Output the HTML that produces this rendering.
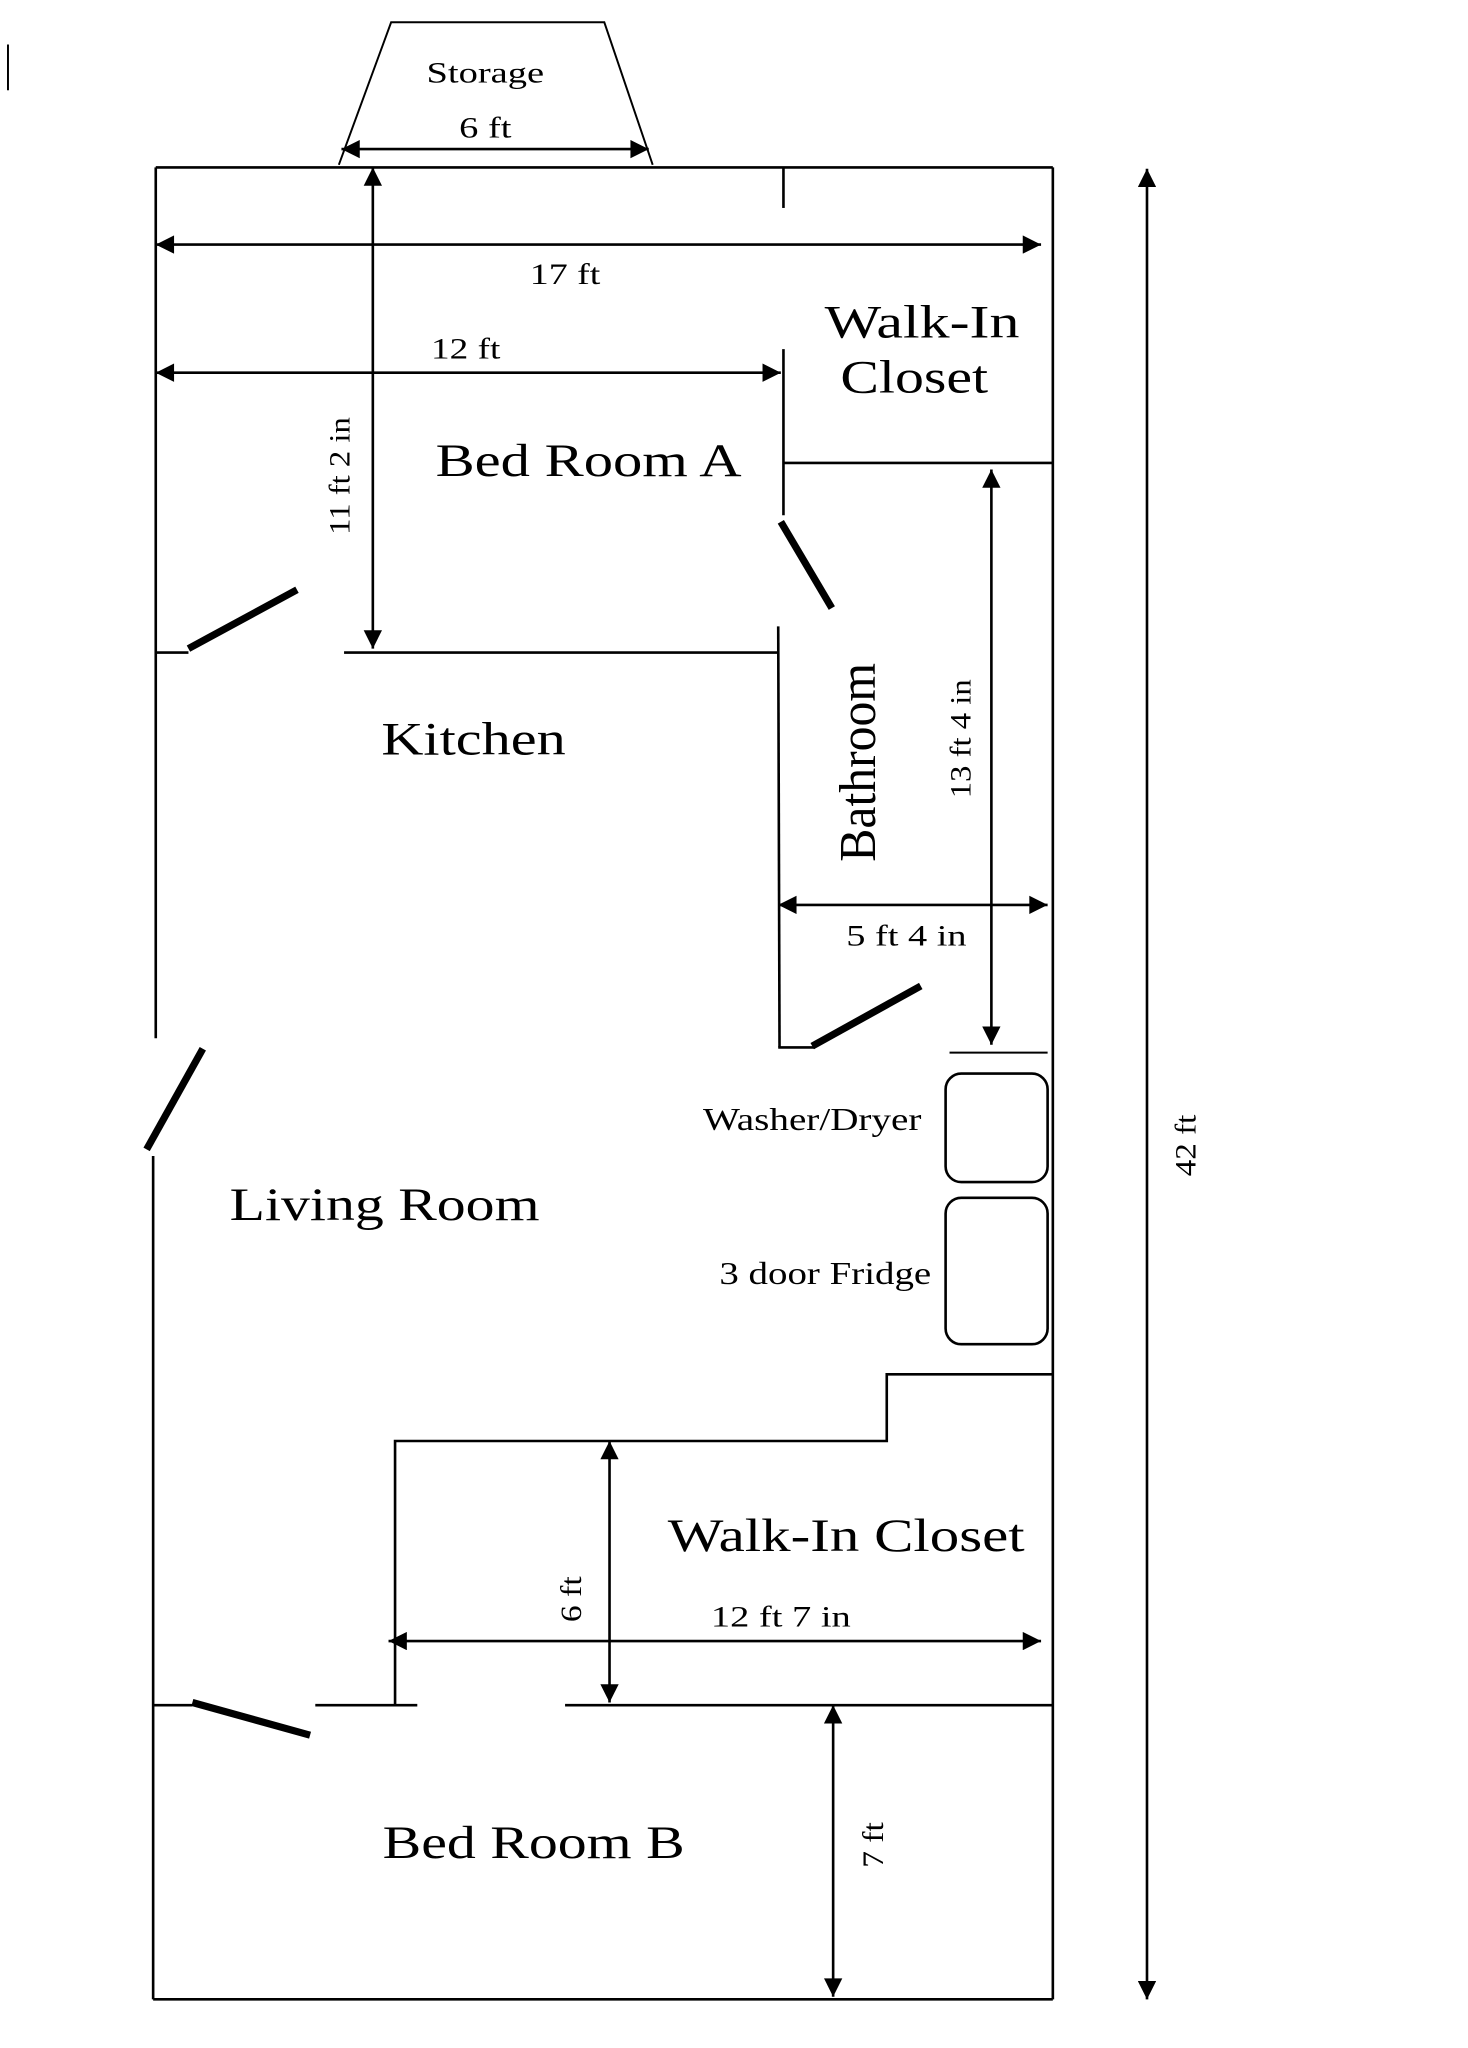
<!DOCTYPE html>
<html><head><meta charset="utf-8"><style>
html,body{margin:0;padding:0;background:#fff;}
svg{display:block;}
text{font-family:"Liberation Serif",serif;fill:#000;}
</style></head><body>
<svg width="1468" height="2048" viewBox="0 0 1131 1578" preserveAspectRatio="none" xmlns="http://www.w3.org/2000/svg">
<defs>
<marker id="b" viewBox="0 0 10 10" refX="10" refY="5" markerWidth="18" markerHeight="14" orient="auto-start-reverse" markerUnits="userSpaceOnUse">
<path d="M0,0 L10,5 L0,10 z" fill="#000"/></marker>
</defs>
<g transform="translate(-0.9,-0.97) scale(1.0075)">
<g stroke="#000" fill="none" stroke-width="2">
<line x1="7" y1="35" x2="7" y2="70" stroke-width="1.5"/>
<polyline points="260,127 300,18 463,18 500,127" stroke-width="1.5"/>
<line x1="120" y1="129" x2="806" y2="129"/>
<line x1="806" y1="129" x2="806" y2="1530"/>
<line x1="120" y1="129" x2="120" y2="795"/>
<line x1="118" y1="885" x2="118" y2="1530"/>
<line x1="118" y1="1530" x2="806" y2="1530"/>
<line x1="600" y1="129" x2="600" y2="160"/>
<line x1="600" y1="268" x2="600" y2="395"/>
<line x1="600" y1="355" x2="806" y2="355"/>
<line x1="120" y1="500" x2="145" y2="500"/>
<line x1="264" y1="500" x2="596" y2="500"/>
<line x1="596" y1="480" x2="597" y2="802"/>
<line x1="596" y1="802" x2="624" y2="802"/>
<line x1="727" y1="806" x2="802" y2="806" stroke-width="1.5"/>
<rect x="724" y="822" width="78" height="83" rx="12"/>
<rect x="724" y="917" width="78" height="112" rx="12"/>
<polyline points="806,1052 679,1052 679,1103 303,1103 303,1305"/>
<line x1="118" y1="1305" x2="148" y2="1305"/>
<line x1="242" y1="1305" x2="320" y2="1305"/>
<line x1="433" y1="1305" x2="806" y2="1305"/>
</g>
<g stroke="#000" stroke-width="5.5">
<line x1="145" y1="497" x2="228" y2="452"/>
<line x1="598" y1="400" x2="637" y2="466"/>
<line x1="622" y1="801" x2="705" y2="755"/>
<line x1="113" y1="880" x2="156" y2="803"/>
<line x1="148" y1="1303" x2="238" y2="1328"/>
</g>
<g stroke="#000" stroke-width="2">
<line x1="262" y1="115" x2="497" y2="115" marker-start="url(#b)" marker-end="url(#b)"/>
<line x1="120" y1="188" x2="797" y2="188" marker-start="url(#b)" marker-end="url(#b)"/>
<line x1="120" y1="286" x2="598" y2="286" marker-start="url(#b)" marker-end="url(#b)"/>
<line x1="286" y1="129" x2="286" y2="497" marker-start="url(#b)" marker-end="url(#b)"/>
<line x1="759" y1="360" x2="759" y2="800" marker-start="url(#b)" marker-end="url(#b)"/>
<line x1="596" y1="693" x2="802" y2="693" marker-start="url(#b)" marker-end="url(#b)"/>
<line x1="467" y1="1103" x2="467" y2="1303" marker-start="url(#b)" marker-end="url(#b)"/>
<line x1="298" y1="1256" x2="797" y2="1256" marker-start="url(#b)" marker-end="url(#b)"/>
<line x1="638" y1="1305" x2="638" y2="1528" marker-start="url(#b)" marker-end="url(#b)"/>
<line x1="878" y1="130" x2="878" y2="1530" marker-start="url(#b)" marker-end="url(#b)"/>
</g>
<g text-anchor="middle">
<text x="372" y="64" font-size="23" textLength="90" lengthAdjust="spacingAndGlyphs">Storage</text>
<text x="372" y="106" font-size="23" textLength="40" lengthAdjust="spacingAndGlyphs">6 ft</text>
<text x="433" y="218" font-size="23" textLength="54" lengthAdjust="spacingAndGlyphs">17 ft</text>
<text x="357" y="275" font-size="23" textLength="53" lengthAdjust="spacingAndGlyphs">12 ft</text>
<text x="706" y="259" font-size="36" textLength="149" lengthAdjust="spacingAndGlyphs">Walk-In</text>
<text x="700" y="301" font-size="36" textLength="113" lengthAdjust="spacingAndGlyphs">Closet</text>
<text x="451" y="365" font-size="36" textLength="234" lengthAdjust="spacingAndGlyphs">Bed Room A</text>
<text transform="translate(268,365) rotate(-90)" font-size="23" textLength="90" lengthAdjust="spacingAndGlyphs">11 ft 2 in</text>
<text x="363" y="578" font-size="36" textLength="141" lengthAdjust="spacingAndGlyphs">Kitchen</text>
<text transform="translate(670,584) rotate(-90)" font-size="40" textLength="152" lengthAdjust="spacingAndGlyphs">Bathroom</text>
<text transform="translate(743,566) rotate(-90)" font-size="23" textLength="91" lengthAdjust="spacingAndGlyphs">13 ft 4 in</text>
<text x="694" y="724" font-size="23" textLength="92" lengthAdjust="spacingAndGlyphs">5 ft 4 in</text>
<text x="622" y="865" font-size="24" textLength="167" lengthAdjust="spacingAndGlyphs">Washer/Dryer</text>
<text x="632" y="983" font-size="24" textLength="162" lengthAdjust="spacingAndGlyphs">3 door Fridge</text>
<text x="295" y="934" font-size="36" textLength="237" lengthAdjust="spacingAndGlyphs">Living Room</text>
<text x="648" y="1187" font-size="36" textLength="273" lengthAdjust="spacingAndGlyphs">Walk-In Closet</text>
<text transform="translate(445,1224) rotate(-90)" font-size="23" textLength="35" lengthAdjust="spacingAndGlyphs">6 ft</text>
<text x="598" y="1245" font-size="23" textLength="107" lengthAdjust="spacingAndGlyphs">12 ft 7 in</text>
<text transform="translate(676,1412) rotate(-90)" font-size="23" textLength="35" lengthAdjust="spacingAndGlyphs">7 ft</text>
<text x="409" y="1422" font-size="36" textLength="231" lengthAdjust="spacingAndGlyphs">Bed Room B</text>
<text transform="translate(915,877) rotate(-90)" font-size="23" textLength="47" lengthAdjust="spacingAndGlyphs">42 ft</text>
</g>
</g>
</svg>
</body></html>
